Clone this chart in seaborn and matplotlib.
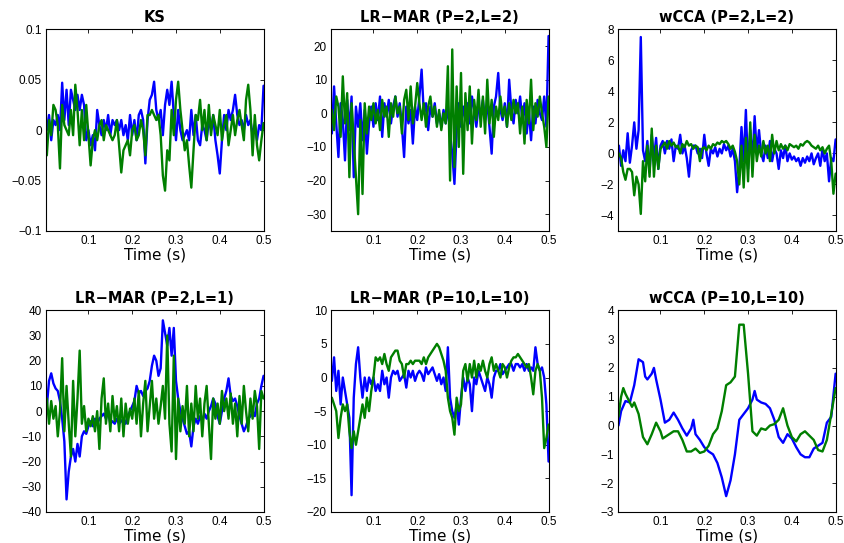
import numpy as np
import matplotlib
matplotlib.use("Agg")
import matplotlib.pyplot as plt
import seaborn as sns

# --- data (blue = series 1, green = series 2) ---
t_grid = np.round(np.linspace(0.005, 0.5, 100), 3)

ks_blue = [0.0, 0.015, -0.01, 0.01, 0.005, 0.015, 0.0, 0.047, 0.01, 0.04,
           0.005, 0.04, 0.03, 0.02, 0.035, 0.02, 0.035, 0.025, -0.01, 0.0,
           -0.015, -0.005, -0.02, 0.02, 0.005, -0.005, 0.01, 0.0, 0.015, -0.005,
           0.01, 0.005, 0.01, 0.0, 0.01, -0.005, 0.005, -0.01, 0.015, -0.005,
           0.01, -0.01, 0.015, 0.02, 0.01, -0.033, 0.01, 0.03, 0.035, 0.048,
           0.02, 0.01, 0.02, -0.005, 0.025, 0.04, 0.025, 0.048, 0.015, -0.01,
           0.02, 0.0, -0.01, -0.005, 0.0, -0.01, 0.02, -0.005, 0.015, -0.01,
           -0.015, 0.005, 0.0, -0.01, 0.01, 0.0, 0.015, -0.01, -0.025, -0.043,
           -0.01, 0.015, 0.0, 0.02, 0.01, 0.02, 0.035, 0.015, 0.005, 0.01,
           0.0, 0.015, 0.005, 0.01, -0.005, 0.005, -0.01, 0.005, 0.0, 0.044]
ks_green = [-0.025, 0.01, -0.005, 0.025, 0.02, 0.005, -0.038, 0.025, 0.005, 0.0,
            -0.005, 0.02, -0.005, 0.045, 0.02, -0.015, 0.02, -0.01, 0.025, -0.005,
            -0.035, -0.01, 0.0, -0.01, 0.005, 0.01, -0.01, 0.005, 0.0, -0.005,
            -0.01, -0.005, 0.01, -0.015, -0.042, -0.02, -0.015, -0.01, -0.025, 0.0,
            0.005, -0.01, -0.005, 0.01, 0.0, -0.025, 0.015, 0.015, 0.02, 0.015,
            0.01, 0.015, -0.005, -0.045, -0.06, -0.02, -0.03, 0.02, -0.005, 0.03,
            0.048, 0.02, 0.0, -0.02, -0.01, -0.035, -0.057, -0.02, 0.015, 0.01,
            0.03, 0.0, 0.02, -0.01, 0.025, -0.005, 0.015, 0.005, -0.005, 0.02,
            -0.01, 0.005, 0.015, -0.015, 0.0, 0.015, -0.005, 0.01, 0.02, 0.005,
            -0.01, 0.03, 0.045, 0.02, -0.025, 0.015, -0.015, -0.03, -0.01, 0.007]

lr22_blue = [-6, 8, -3, -13, 3, -2, -14, 4, -5, 5,
             -19, 2, -4, 3, -8, 1, -12, -3, 2, -4,
             3, -2, 5, -7, 3, -1, 4, -3, 2, 5,
             -1, 3, -4, -13, 2, -3, 1, -9, 2, -2,
             5, 13, 0, 3, -5, 2, -1, 3, -3, 0,
             -4, 1, -3, 2, -6, -12, -21, -5, 3, -4,
             2, -2, 3, -3, 5, 1, -4, 2, 0, 4,
             -2, 3, -4, -12, 2, 5, 12, 1, -2, 3,
             -4, 10, 1, -3, 4, 0, 5, -2, 3, -6,
             1, -8, 2, -3, 4, 0, -2, 5, -4, 23]
lr22_green = [1, -5, 5, 2, -7, 11, -3, 6, -19, 3,
              -8, -19, -30, -2, -24, 3, -6, 2, -2, 3,
              -3, 1, -5, 4, -1, 2, -7, 3, -1, 5,
              0, 2, -6, 4, 7, -2, 8, -3, 2, 9,
              3, -2, 3, -4, 2, 5, -1, 2, -4, 1,
              -5, 0, -3, 14, -20, 19, -16, 8, -10, 12,
              -18, 6, -5, 8, -9, 4, -2, 7, -4, 5,
              -6, 10, -3, 4, -7, 2, -2, 5, -1, 2,
              -4, 3, -2, 4, 0, 3, -6, 2, -9, 4,
              -3, 10, -5, 3, -1, 5, 0, -4, -10, 5]

wcca22_blue = [0.5, -0.8, 0.2, -0.5, 1.3, -0.6, 0.5, 2.0, 0.3, 1.5,
               7.5, 0.2, -0.5, 0.8, -1.2, 1.2, -0.3, 1.0, -1.0, 0.5,
               0.8, 0.0, 0.8, 0.3, 0.9, -0.5, 0.5, 0.3, 1.2, 0.0,
               0.5, -0.3, -1.5, 0.2, 0.5, 0.5, 0.0, 0.3, -0.3, 1.2,
               0.0, -0.8, 0.3, 0.0, 0.4, -0.2, 0.3, 0.0, 0.6, 0.2,
               0.5, -0.2, 0.3, -0.5, -2.5, -1.0, 1.7, -0.5, 2.8, -1.0,
               1.5, -0.5, 2.4, 0.0, 1.5, 0.0, -0.5, 0.5, -0.3, 0.8,
               -0.5, 0.3, 0.0, -1.0, 0.2, -0.3, 0.5, -0.5, 0.0, -0.4,
               -0.2, -0.5, -0.3, -0.8, -0.3, -0.6, -0.2, -0.5, 0.0, -0.7,
               -0.3, 0.0, -0.8, 0.3, -0.5, 0.0, -1.8, -0.3, -0.5, 0.9]
wcca22_green = [0.0, -0.3, -1.2, -1.7, -1.0, -1.0, -1.2, -2.7, -1.5, -2.0,
                -3.9, -0.5, -1.8, 0.5, -1.5, 1.6, -1.5, 0.5, -1.0, 0.3,
                0.5, 0.7, 0.3, 0.8, 0.5, 0.7, 0.4, 0.5, 0.0, 0.6,
                0.4, 0.8, 0.5, 0.6, 0.3, 0.5, 0.4, -0.5, 0.3, 0.4,
                0.2, 0.5, 0.3, 0.6, 0.5, 0.7, 0.6, 0.8, 0.7, 0.8,
                0.6, 0.3, 0.5, 0.1, -0.5, -2.0, 0.5, -2.2, 1.0, -1.8,
                2.0, -1.5, 1.2, -0.5, 0.5, -0.2, 0.8, 0.0, 0.5, -0.5,
                1.2, 0.0, 0.8, 0.2, 0.6, 0.3, 0.5, 0.2, 0.6, 0.5,
                0.4, 0.5, 0.3, 0.6, 0.5, 0.7, 0.8, 0.7, 0.5, 0.4,
                0.3, 0.5, 0.2, 0.4, 0.0, 0.3, 0.5, -0.5, -2.6, -1.3]

lr21_blue = [2, 12, 15, 11, 9, 8, 4, -3, -12, -35,
             -24, -18, -15, -20, -13, -18, -10, -8, -9, -6,
             -4, -6, -3, -5, -3, -2, -1, -3, 0, -5,
             -4, -5, -3, -5, -4, -3, -5, -2, 0, 2,
             4, 10, 7, 8, 6, 8, 9, 12, 18, 22,
             20, 14, 17, 36, 31, 26, 33, 22, 33, 12,
             5, 0, -3, -6, -9, -8, -14, -6, -3, -5,
             -2, -4, -1, -3, 0, 2, 5, 3, -2, -5,
             0, 5, 8, 13, 6, 4, 5, 2, -2, -5,
             -8, -6, -3, -2, 0, -2, 3, 5, 10, 14]
lr21_green = [5, -5, 4, -3, 2, -10, 0, 21, -8, 10,
              -5, -18, 12, -10, 5, 24, -5, 2, -8, -3,
              -6, -2, -8, 0, -15, 5, 13, -5, 3, -8,
              6, -4, 2, -8, 5, -10, 3, -5, 1, -3,
              5, -5, 8, -10, 3, 12, -8, 2, 12, -3,
              5, -5, 2, 10, -3, 30, -5, -16, 22, -19,
              5, -8, 2, -5, 10, -10, 3, -8, 10, -3,
              5, -10, 3, 10, -5, -19, 5, -3, 3, -5,
              8, 0, 5, -3, 7, -5, 3, -10, 6, -5,
              10, 0, -8, 5, -3, 8, 2, -15, 8, 5]

lr10_blue = [-0.5, 3, -2, 1, -4, 0, -2, -4, -6, -17.5,
             -3, 2, 4.5, 0, -3, 0, -2, 0, -1, 0,
             -2, -1, -2, 1, -1, 0, -3, 0, 1, 0.5,
             1, -0.5, 0, 0.5, -1.5, 1, 0, 1, -0.5, 0.5,
             1, 0.5, -0.5, 1.5, 0.5, 1, 1.5, 0.5, -0.5, 0.5,
             -1, 0, -2, 4.5, -3, -5, -6, -4, -7, -3,
             0, -2, 0, -1, -5, 0, -1, 1, 0, -1,
             -2, 0, -1, -3, 0, 1, 1, 2, 0.5, 1,
             1.5, 2, 2, 1, 2, 2, 1.5, 2, 1, 2,
             1, 1.5, 1, 4.5, 2, 1, 1.5, 0, -4, -12.5]
lr10_green = [-3, -4, -5, -9, -6, -4, -5, -4, -8, -10.5,
              -8, -10, -8, -6, -4, -6, -3, -5, -2, 0,
              3, 2.5, 3, 2, 3.5, 2, 1, 3, 3.5, 4,
              4, 2.5, 2, 0, 2, 2, 2.5, 2, 2.5, 2.5,
              2.5, 2, 3, 2, 3, 3.5, 4, 4.5, 5, 4.5,
              3.5, 2.5, 1, -3, -5, -6, -8.5, -3, -5, -4,
              1, 2, -0.5, 2, 0, 2.5, 0, 2, 1, 2.5,
              1, 0, 2, 3, 1, 2, 1, 0, 2, 1.5,
              0, 1.5, 2.5, 3, 3, 3.5, 3, 2.5, 2, 1.5,
              2, 0, -2.5, 1, 2, 1, -3, -10.5, -9, -7]

t_w10_blue = [0.004, 0.01, 0.02, 0.03, 0.04, 0.05, 0.055, 0.06, 0.065, 0.07,
              0.08, 0.085, 0.09, 0.1, 0.11, 0.12, 0.13, 0.14, 0.15, 0.16,
              0.17, 0.175, 0.18, 0.19, 0.2, 0.21, 0.22, 0.23, 0.24, 0.25,
              0.26, 0.27, 0.28, 0.29, 0.3, 0.31, 0.315, 0.32, 0.33, 0.34,
              0.35, 0.36, 0.37, 0.38, 0.39, 0.4, 0.41, 0.42, 0.43, 0.44,
              0.45, 0.46, 0.47, 0.48, 0.49, 0.5]
wcca10_blue = [0.0, 0.5, 0.85, 0.8, 1.4, 2.3, 2.25, 2.2, 1.7, 1.6,
               1.8, 2.0, 1.6, 0.9, 0.1, 0.2, 0.45, 0.2, -0.1, -0.35,
               -0.1, 0.2, -0.3, -0.5, -0.75, -0.9, -1.0, -1.3, -1.8, -2.45,
               -1.9, -1.0, 0.2, 0.4, 0.6, 0.9, 1.2, 0.9, 0.8, 0.75,
               0.6, 0.2, -0.4, -0.6, -0.3, -0.45, -0.75, -1.0, -1.1, -1.1,
               -0.8, -0.7, -0.6, 0.1, 0.3, 1.8]
t_w10_green = [0.004, 0.01, 0.015, 0.02, 0.03, 0.035, 0.04, 0.05, 0.06, 0.07,
               0.08, 0.09, 0.1, 0.105, 0.11, 0.12, 0.13, 0.14, 0.15, 0.16,
               0.17, 0.18, 0.19, 0.2, 0.21, 0.22, 0.23, 0.24, 0.25, 0.26,
               0.27, 0.28, 0.29, 0.3, 0.31, 0.32, 0.33, 0.34, 0.35, 0.36,
               0.37, 0.38, 0.39, 0.4, 0.41, 0.42, 0.43, 0.44, 0.45, 0.46,
               0.47, 0.48, 0.49, 0.5]
wcca10_green = [0.3, 1.0, 1.3, 1.1, 0.8, 0.65, 0.8, 0.4, -0.4, -0.65,
                -0.3, 0.1, -0.2, -0.45, -0.4, -0.3, -0.2, -0.2, -0.5, -0.9,
                -0.9, -0.8, -0.95, -0.9, -0.7, -0.3, -0.1, 0.5, 1.4, 1.5,
                1.7, 3.5, 3.5, 1.8, -0.2, -0.35, -0.1, -0.15, 0.0, 0.05,
                0.2, 0.6, 0.0, -0.4, -0.55, -0.3, -0.2, -0.35, -0.5, -0.85,
                -0.9, -0.5, 0.4, 1.3]

titles = ["KS", "LR\u2212MAR (P=2,L=2)", "wCCA (P=2,L=2)",
          "LR\u2212MAR (P=2,L=1)", "LR\u2212MAR (P=10,L=10)", "wCCA (P=10,L=10)"]
xticks = [0.1, 0.2, 0.3, 0.4, 0.5]
yticks = [[-0.1, -0.05, 0, 0.05, 0.1], [-30, -20, -10, 0, 10, 20], [-4, -2, 0, 2, 4, 6, 8],
          [-40, -30, -20, -10, 0, 10, 20, 30, 40], [-20, -15, -10, -5, 0, 5, 10],
          [-3, -2, -1, 0, 1, 2, 3, 4]]
ylims = [(-0.1, 0.1), (-35, 25), (-5, 8), (-40, 40), (-20, 10), (-3, 4)]

series = [
    ((t_grid, ks_blue), (t_grid, ks_green)),
    ((t_grid, lr22_blue), (t_grid, lr22_green)),
    ((t_grid, wcca22_blue), (t_grid, wcca22_green)),
    ((t_grid, lr21_blue), (t_grid, lr21_green)),
    ((t_grid, lr10_blue), (t_grid, lr10_green)),
    ((t_w10_blue, wcca10_blue), (t_w10_green, wcca10_green)),
]

# --- plotting ---
sns.set_theme(style="white")
plt.rcParams['font.family'] = ['Liberation Sans', 'DejaVu Sans']
plt.rcParams['text.color'] = 'black'

fig = plt.figure(figsize=(8.45, 5.43), dpi=100)
lefts = [0.0544, 0.3917, 0.7314]
bottoms = [0.5746, 0.0571]
w, h = 0.2575, 0.3715

BLUE = "#0000ff"
GREEN = "#007f00"


def fmt(v):
    s = ("%g" % v)
    return s.replace("-", "\u2212")


for i in range(6):
    r, c = divmod(i, 3)
    ax = fig.add_axes([lefts[c], bottoms[r], w, h])
    (tb, yb), (tg, yg) = series[i]
    sns.lineplot(x=tb, y=yb, color=BLUE, linewidth=1.7, ax=ax, sort=False)
    sns.lineplot(x=tg, y=yg, color=GREEN, linewidth=1.7, ax=ax, sort=False)
    ax.set_xlim(0.003, 0.5)
    ax.set_ylim(*ylims[i])
    ax.set_xticks(xticks)
    ax.set_xticklabels([fmt(v) for v in xticks])
    ax.set_yticks(yticks[i])
    ax.set_yticklabels([fmt(v) for v in yticks[i]])
    ax.tick_params(direction="in", length=3, width=0.6, labelsize=8.5,
                   top=True, right=True, pad=3, colors="black")
    for sp in ax.spines.values():
        sp.set_color("black")
        sp.set_linewidth(0.8)
    ax.set_title(titles[i], fontsize=10.5, fontweight="bold", pad=5,
                 family=['DejaVu Sans'], color="black")
    ax.set_xlabel("Time (s)", fontsize=11, labelpad=0, family=['DejaVu Sans'],
                  color="black")
    ax.set_ylabel("")

fig.savefig("out.png", dpi=100)
